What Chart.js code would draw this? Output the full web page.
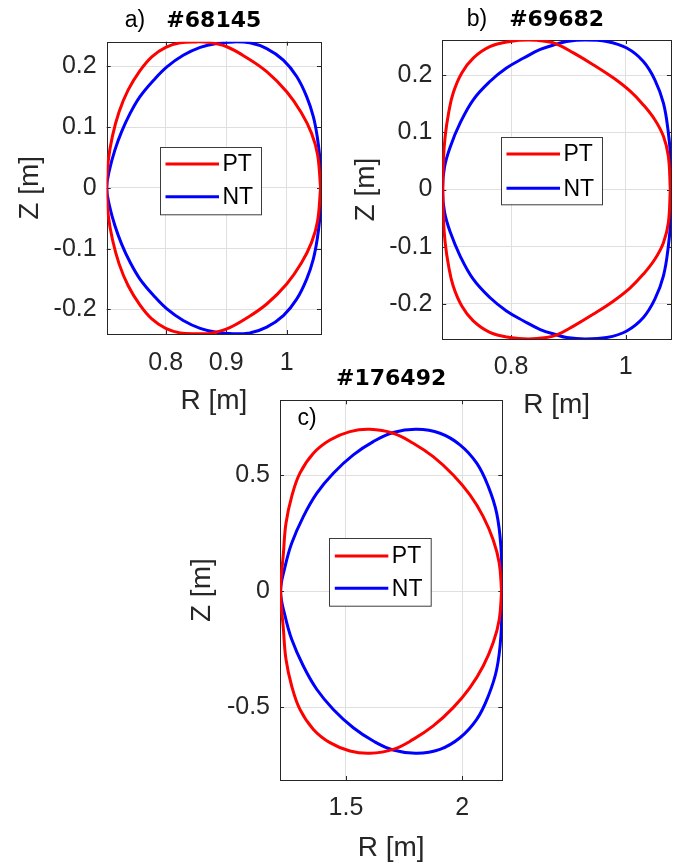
<!DOCTYPE html>
<html><head><meta charset="utf-8">
<script src="https://cdn.jsdelivr.net/npm/chart.js@4"></script>
<style>
html,body{margin:0;padding:0;background:#fff;}
body{width:687px;height:865px;position:relative;overflow:hidden;}
canvas{position:absolute;display:block;}
</style></head><body>
<canvas id="ca" width="340" height="430" style="left:0;top:0;width:340px;height:430px"></canvas>
<canvas id="cb" width="347" height="430" style="left:340px;top:0;width:347px;height:430px"></canvas>
<canvas id="cc" width="380" height="525" style="left:150px;top:340px;width:380px;height:525px"></canvas>
<script>
// ---- data (R, Z in metres) ----
const seriesLabels = ['PT', 'NT'];
const titles = ['#68145', '#69682', '#176492'];
const panelLetters = ['a)', 'b)', 'c)'];

const aPT_R = [1.056,1.051,1.041,1.024,1.000,0.967,0.934,0.901,0.871,0.851,0.824,0.800,0.777,0.757,0.738,0.723,0.712,0.705,0.7025,
  0.705,0.712,0.723,0.738,0.757,0.777,0.800,0.824,0.851,0.871,0.901,0.934,0.967,1.000,1.024,1.041,1.051,1.056];
const aPT_Z = [0,0.055,0.090,0.124,0.158,0.191,0.214,0.232,0.2395,0.240,0.2385,0.231,0.2155,0.192,0.161,0.125,0.085,0.044,0,
  -0.044,-0.085,-0.125,-0.161,-0.192,-0.2155,-0.231,-0.2385,-0.240,-0.2395,-0.232,-0.214,-0.191,-0.158,-0.124,-0.090,-0.055,0];
const aNT_R = [1.0567,1.055,1.0505,1.044,1.033,1.0165,0.9945,0.967,0.939,0.912,0.884,0.857,0.829,0.802,0.780,0.7575,0.741,0.727,0.716,0.707,0.7025,
  0.707,0.716,0.727,0.741,0.7575,0.780,0.802,0.829,0.857,0.884,0.912,0.939,0.967,0.9945,1.0165,1.033,1.044,1.0505,1.055,1.0567];
const aNT_Z = [0,0.0455,0.084,0.117,0.150,0.183,0.210,0.229,0.2385,0.240,0.2375,0.231,0.218,0.199,0.177,0.150,0.122,0.092,0.062,0.029,0,
  -0.029,-0.062,-0.092,-0.122,-0.150,-0.177,-0.199,-0.218,-0.231,-0.2375,-0.240,-0.2385,-0.229,-0.210,-0.183,-0.150,-0.117,-0.084,-0.0455,0];

const bPT_R = [1.078,1.0746,1.066,1.051,1.031,1.008,0.979,0.944,0.909,0.880,0.862,0.830,0.798,0.763,0.734,0.714,0.699,0.691,0.685,0.682,0.681,
  0.682,0.685,0.691,0.699,0.714,0.734,0.763,0.798,0.830,0.862,0.880,0.909,0.944,0.979,1.008,1.031,1.051,1.066,1.0746,1.078];
const bPT_Z = [0,0.058,0.093,0.122,0.148,0.172,0.195,0.218,0.239,0.2545,0.259,0.2615,0.259,0.250,0.230,0.204,0.169,0.134,0.093,0.052,0,
  -0.052,-0.093,-0.134,-0.169,-0.204,-0.230,-0.250,-0.259,-0.2615,-0.259,-0.2545,-0.239,-0.218,-0.195,-0.172,-0.148,-0.122,-0.093,-0.058,0];
const bNT_R = [1.0792,1.0787,1.0746,1.066,1.051,1.031,1.002,0.967,0.929,0.897,0.880,0.851,0.822,0.792,0.763,0.734,0.711,0.694,0.684,0.6802,
  0.684,0.694,0.711,0.734,0.763,0.792,0.822,0.851,0.880,0.897,0.929,0.967,1.002,1.031,1.051,1.066,1.0746,1.0787,1.0792];
const bNT_Z = [0,0.052,0.099,0.151,0.192,0.224,0.2475,0.259,0.2615,0.259,0.2545,0.245,0.230,0.2125,0.189,0.157,0.116,0.075,0.040,0,
  -0.040,-0.075,-0.116,-0.157,-0.189,-0.2125,-0.230,-0.245,-0.2545,-0.259,-0.2615,-0.259,-0.2475,-0.224,-0.192,-0.151,-0.099,-0.052,0];

const cPT_R = [2.169,2.159,2.133,2.090,2.033,1.961,1.875,1.789,1.703,1.603,1.517,1.431,1.360,1.302,1.2665,1.242,1.231,1.219,
  1.231,1.242,1.2665,1.302,1.360,1.431,1.517,1.603,1.703,1.789,1.875,1.961,2.033,2.090,2.133,2.159,2.169];
const cPT_Z = [0,0.121,0.221,0.322,0.415,0.501,0.580,0.638,0.681,0.698,0.688,0.652,0.595,0.509,0.408,0.293,0.164,0,
  -0.164,-0.293,-0.408,-0.509,-0.595,-0.652,-0.688,-0.698,-0.681,-0.638,-0.580,-0.501,-0.415,-0.322,-0.221,-0.121,0];
const cNT_R = [2.172,2.166,2.148,2.112,2.062,1.990,1.904,1.804,1.703,1.6175,1.5315,1.4456,1.374,1.3166,1.2665,1.238,1.219,
  1.238,1.2665,1.3166,1.374,1.4456,1.5315,1.6175,1.703,1.804,1.904,1.990,2.062,2.112,2.148,2.166,2.172];
const cNT_Z = [0,0.1925,0.336,0.451,0.552,0.631,0.681,0.698,0.684,0.645,0.588,0.509,0.422,0.322,0.207,0.106,0,
  -0.106,-0.207,-0.322,-0.422,-0.509,-0.588,-0.645,-0.684,-0.698,-0.681,-0.631,-0.552,-0.451,-0.336,-0.1925,0];

const aXTicks = [0.8, 0.9, 1], aXTickLabels = ['0.8', '0.9', '1'];
const bXTicks = [0.8, 1], bXTickLabels = ['0.8', '1'];
const cXTicks = [1.5, 2], cXTickLabels = ['1.5', '2'];
const abYTicks = [-0.2, -0.1, 0, 0.1, 0.2], abYTickLabels = ['-0.2', '-0.1', '0', '0.1', '0.2'];
const cYTicks = [-0.5, 0, 0.5], cYTickLabels = ['-0.5', '0', '0.5'];
const xTitle = 'R [m]', yTitle = 'Z [m]';

// ---- styling / layout ----
const FONT = "'Liberation Sans', Arial, Helvetica, sans-serif";
const AX = '#262626', GRID = '#dfdfdf';
const RED = '#ff0000', BLUE = '#0000ff';

function pts(R, Z) { return R.map((r, i) => ({ x: r, y: Z[i] })); }

const deco = {
  id: 'deco',
  beforeDatasetsDraw(chart, args, o) {
    const ctx = chart.ctx, a = chart.chartArea, xs = chart.scales.x, ys = chart.scales.y;
    const L = 4;
    ctx.save();
    ctx.strokeStyle = AX; ctx.lineWidth = 1;
    ctx.beginPath();
    xs.ticks.forEach(t => {
      const p = Math.round(xs.getPixelForValue(t.value)) + 0.5;
      ctx.moveTo(p, a.bottom); ctx.lineTo(p, a.bottom - L);
      ctx.moveTo(p, a.top); ctx.lineTo(p, a.top + L);
    });
    ys.ticks.forEach(t => {
      const p = Math.round(ys.getPixelForValue(t.value)) + 0.5;
      ctx.moveTo(a.left, p); ctx.lineTo(a.left + L, p);
      ctx.moveTo(a.right, p); ctx.lineTo(a.right - L, p);
    });
    ctx.stroke();
    const l = Math.round(a.left) + 0.5, t = Math.round(a.top) + 0.5;
    ctx.strokeRect(l, t, Math.round(a.right) - Math.round(a.left), Math.round(a.bottom) - Math.round(a.top));
    ctx.restore();
  },
  afterDatasetsDraw(chart, args, o) {
    const ctx = chart.ctx, g = o.legend;
    ctx.save();
    ctx.fillStyle = '#fff';
    ctx.fillRect(g.x, g.y, g.w, g.h);
    ctx.strokeStyle = '#3c3c3c'; ctx.lineWidth = 1;
    ctx.strokeRect(Math.round(g.x) + 0.5, Math.round(g.y) + 0.5, g.w, g.h);
    chart.data.datasets.forEach((d, i) => {
      const yy = g.y + g.rows[i];
      ctx.strokeStyle = d.borderColor; ctx.lineWidth = 3;
      ctx.beginPath(); ctx.moveTo(g.x + 5.5, yy); ctx.lineTo(g.x + 59, yy); ctx.stroke();
      ctx.fillStyle = '#000'; ctx.font = '23px ' + FONT;
      ctx.textBaseline = 'middle'; ctx.textAlign = 'left';
      ctx.fillText(d.label, g.x + 62.5, yy + 1);
    });
    ctx.fillStyle = '#000'; ctx.font = '23px ' + FONT;
    ctx.textAlign = 'center'; ctx.textBaseline = 'middle';
    ctx.fillText(o.letter, o.lx, o.ly);
    ctx.restore();
  }
};

function makePanel(id, p) {
  const lbl = (ticks, labels) => (v) => { const i = ticks.findIndex(t => Math.abs(t - v) < 1e-9); return i >= 0 ? labels[i] : ''; };
  return new Chart(document.getElementById(id), {
    type: 'scatter',
    data: {
      datasets: [
        { label: seriesLabels[0], data: pts(p.ptR, p.ptZ), showLine: true, borderColor: RED, backgroundColor: RED, borderWidth: 3, pointRadius: 0, tension: 0.4, fill: false },
        { label: seriesLabels[1], data: pts(p.ntR, p.ntZ), showLine: true, borderColor: BLUE, backgroundColor: BLUE, borderWidth: 3, pointRadius: 0, tension: 0.4, fill: false }
      ]
    },
    options: {
      responsive: false, animation: false, devicePixelRatio: 1,
      events: [],
      layout: { padding: p.pad },
      plugins: {
        legend: { display: false }, tooltip: { enabled: false },
        title: { display: true, text: p.title, fullSize: false, color: '#000',
          font: { family: "'DejaVu Sans', sans-serif", weight: 'bold', size: 22, lineHeight: 1.2 },
          padding: p.titlePad },
        deco: { legend: p.legend, letter: p.letter, lx: p.lx, ly: p.ly }
      },
      scales: {
        x: {
          type: 'linear', position: 'bottom', min: p.xmin, max: p.xmax,
          afterBuildTicks: s => { s.ticks = p.xt.map(v => ({ value: v })); },
          afterFit: s => { s.height = p.xH; },
          ticks: { callback: lbl(p.xt, p.xtl), font: { family: FONT, size: 25 }, color: AX, padding: p.xPad, maxRotation: 0, autoSkip: false },
          grid: { color: GRID, lineWidth: 1, drawTicks: false },
          border: { display: false },
          title: { display: true, text: xTitle, color: AX, font: { family: FONT, size: 28 }, padding: { top: 0, bottom: 0 } }
        },
        y: {
          type: 'linear', position: 'left', min: p.ymin, max: p.ymax,
          afterBuildTicks: s => { s.ticks = p.yt.map(v => ({ value: v })); },
          afterFit: s => { s.width = p.yW; },
          ticks: { callback: lbl(p.yt, p.ytl), font: { family: FONT, size: 25 }, color: AX, padding: 10, autoSkip: false },
          grid: { color: GRID, lineWidth: 1, drawTicks: false },
          border: { display: false },
          title: { display: true, text: yTitle, color: AX, font: { family: FONT, size: 28 }, padding: { top: p.yTitlePad, bottom: 0 } }
        }
      }
    },
    plugins: [deco]
  });
}

makePanel('ca', {
  ptR: aPT_R, ptZ: aPT_Z, ntR: aNT_R, ntZ: aNT_Z, title: titles[0], letter: panelLetters[0], lx: 135, ly: 21,
  xmin: 0.7025, xmax: 1.0567, ymin: -0.2403, ymax: 0.2403,
  xt: aXTicks, xtl: aXTickLabels, yt: abYTicks, ytl: abYTickLabels,
  pad: { left: 0, right: 19, top: 0, bottom: 12 }, titlePad: { top: 8.5, bottom: 6.8 },
  xH: 84, xPad: 14.5, yW: 106.7, yTitlePad: 13.2,
  legend: { x: 160, y: 146.7, w: 101, h: 67.3, rows: [17.3, 50] }
});
makePanel('cb', {
  ptR: bPT_R, ptZ: bPT_Z, ntR: bNT_R, ntZ: bNT_Z, title: titles[1], letter: panelLetters[1], lx: 137, ly: 20,
  xmin: 0.680, xmax: 1.0792, ymin: -0.2616, ymax: 0.2616,
  xt: bXTicks, xtl: bXTickLabels, yt: abYTicks, ytl: abYTickLabels,
  pad: { left: 0, right: 16, top: 0, bottom: 8 }, titlePad: { top: 6.8, bottom: 6.8 },
  xH: 83, xPad: 13.5, yW: 102.3, yTitlePad: 9.9,
  legend: { x: 161, y: 136.7, w: 101, h: 67.3, rows: [17.3, 51.6] }
});
makePanel('cc', {
  ptR: cPT_R, ptZ: cPT_Z, ntR: cNT_R, ntZ: cNT_Z, title: titles[2], letter: panelLetters[2], lx: 157, ly: 79,
  xmin: 1.2163, xmax: 2.172, ymin: -0.813, ymax: 0.823,
  xt: cXTicks, xtl: cXTickLabels, yt: cYTicks, ytl: cYTickLabels,
  pad: { left: 0, right: 27.7, top: 0, bottom: 0 }, titlePad: { top: 25.8, bottom: 8.1 },
  xH: 85, xPad: 13.5, yW: 130, yTitlePad: 35.7,
  legend: { x: 179.3, y: 198.3, w: 101.7, h: 67.7, rows: [17.7, 50] }
});
</script>
</body></html>
